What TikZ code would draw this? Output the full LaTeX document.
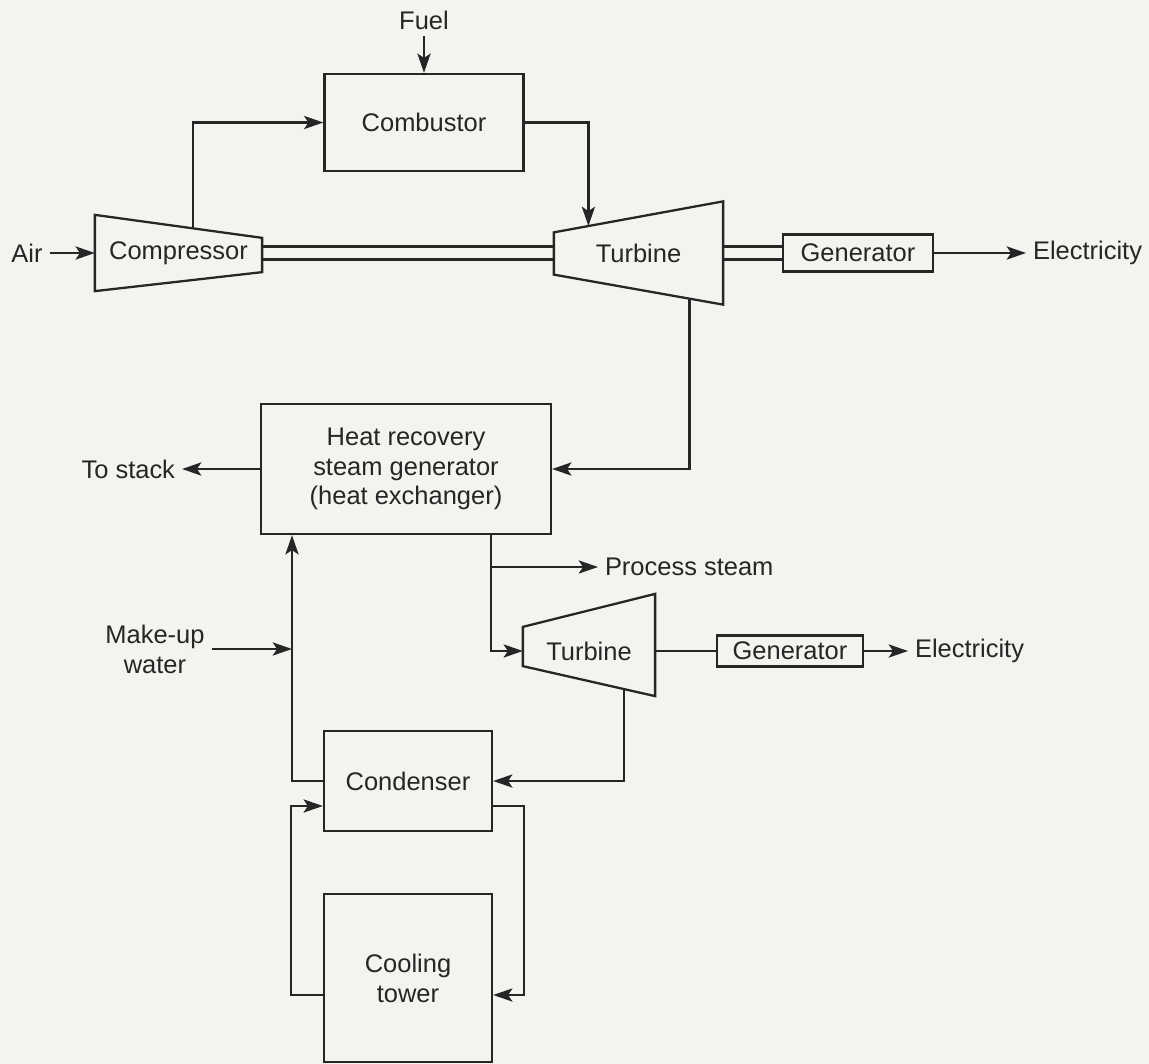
\documentclass[tikz,border=0pt]{standalone}
\usepackage{fontspec}
\setmainfont{Liberation Sans}
\usetikzlibrary{arrows.meta,positioning,calc}
\definecolor{inkLine}{RGB}{38, 38, 38}
\definecolor{inkPaper}{RGB}{243, 243, 239}

\begin{document}
\begin{tikzpicture}[x=0.02cm, y=-0.02cm, line width=1.3pt, color=inkLine,
    font=\fontsize{14.5pt}{17pt}\selectfont,
    unit/.style={draw, inner sep=0pt, align=center},
    casing/.style={inner sep=0pt, align=center},
    flow/.style={-{Stealth[length=11pt, width=7.5pt, inset=2.5pt]}}]
  \fill[inkPaper] (0,0) rectangle (1149,1064);
  \useasboundingbox (0,0) rectangle (1149,1064);

  % gas turbine cycle
  \node[unit, minimum width=3.98cm, minimum height=1.94cm] (comb) at (424,122.5) {Combustor};
  \node (fuel) at (424,20) {Fuel};
  \node[casing, minimum width=3.3cm, minimum height=1.48cm] (comp) at (178.5,253) {Compressor};
  \node[casing, minimum width=3.34cm, minimum height=2.02cm] (turb) at (638.5,253) {Turbine};
  \node[unit, minimum width=3cm, minimum height=0.74cm] (gen1) at (858,253) {Generator};
  \node (air) at (27,253) {Air};
  \node[anchor=west] (elec1) at (1026,253) {Electricity};

  \coordinate (c1ne) at ([yshift=-0.46cm]comp.north east);
  \coordinate (c1se) at ([yshift=0.38cm]comp.south east);
  \draw (comp.north west) -- (c1ne) -- (c1se) -- (comp.south west) -- cycle;
  \coordinate (t1nw) at ([yshift=-0.62cm]turb.north west);
  \coordinate (t1sw) at ([yshift=0.6cm]turb.south west);
  \draw (t1nw) -- (turb.north east) -- (turb.south east) -- (t1sw) -- cycle;

  \draw[flow] (air.east) -- (comp.west);
  \draw[flow] (fuel.south) -- (comb.north);
  \draw[flow] ($(comp.north west)!0.588!(c1ne)$) |- (comb.west);
  \draw[flow] (comb.east) -| ($(t1nw)!0.204!(turb.north east)$);
  \foreach \s in {0.13,-0.13} {
    \draw ([yshift=\s cm]comp.east) -- ([yshift=\s cm]turb.west);
    \draw ([yshift=\s cm]turb.east) -- ([yshift=\s cm]gen1.west);
  }
  \draw[flow] (gen1.east) -- (elec1.west);

  % steam cycle
  \node[unit, minimum width=5.8cm, minimum height=2.6cm] (hrsg) at (406,469)
    {Heat recovery\\steam generator\\(heat exchanger)};
  \node[anchor=east] (stack) at (182,469) {To stack};
  \node[anchor=west] (steam) at (598,567) {Process steam};
  \node[casing, minimum width=2.6cm, minimum height=2cm] (turb2) at (589,651) {Turbine};
  \node[unit, minimum width=2.92cm, minimum height=0.62cm] (gen2) at (790,651) {Generator};
  \node[anchor=west] (elec2) at (908,651) {Electricity};
  \node[align=center] (mkup) at (155,649) {Make-up\\water};
  \node[unit, minimum width=3.36cm, minimum height=2cm] (cond) at (408,781) {Condenser};
  \node[unit, minimum width=3.36cm, minimum height=3.36cm] (tow) at (408,978) {Cooling\\tower};

  \coordinate (t2nw) at ([yshift=-0.54cm]turb2.north west);
  \coordinate (t2ne) at ([yshift=0.12cm]turb2.north east);
  \coordinate (t2se) at ([yshift=0.12cm]turb2.south east);
  \coordinate (t2sw) at ([yshift=0.72cm]turb2.south west);
  \draw (t2nw) -- (t2ne) -- (t2se) -- (t2sw) -- cycle;
  \coordinate (jps) at (491,567);
  \coordinate (jmu) at (292,649);

  \draw[flow] ($(t1sw)!0.802!(turb.south east)$) |- (hrsg.east);
  \draw[flow] (hrsg.west) -- (stack.east);
  \draw[flow] (hrsg.south -| jps) |- (turb2.west);
  \draw[flow] (jps) -- (steam.west);
  \draw (turb2.east) -- (gen2.west);
  \draw[flow] (gen2.east) -- (elec2.west);
  \draw[flow] ($(t2sw)!0.762!(t2se)$) |- (cond.east);
  \draw[flow] (cond.west) -| (hrsg.south -| jmu);
  \draw[flow] (mkup.east) -- (jmu);
  \draw[flow] ([yshift=-0.5cm]cond.east) -- ++(31,0) |- ([yshift=-0.34cm]tow.east);
  \draw[flow] ([yshift=-0.34cm]tow.west) -- ++(-32,0) |- ([yshift=-0.5cm]cond.west);
\end{tikzpicture}
\end{document}
